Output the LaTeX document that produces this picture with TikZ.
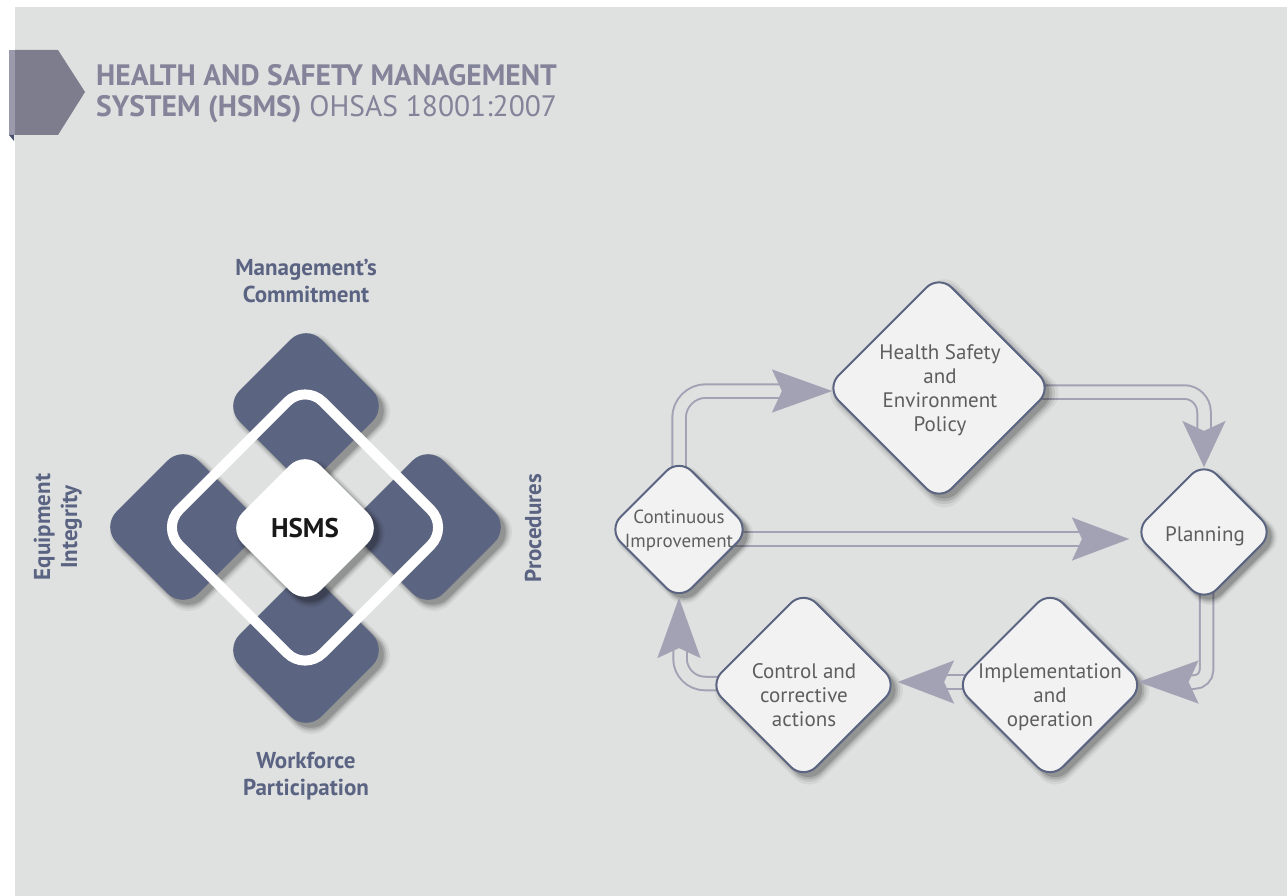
\documentclass[tikz,border=0pt]{standalone}
\usepackage{fontspec}
\setmainfont{PT Sans}
\usetikzlibrary{shapes.geometric,arrows.meta,calc,shadows}
\pgfdeclarelayer{background}
\pgfsetlayers{background,main}
\definecolor{bggrey}{HTML}{DFE1E0}
\definecolor{bannerc}{HTML}{7E7D8E}
\definecolor{bannerlight}{HTML}{9B9AAD}
\definecolor{bannerdark}{HTML}{4A5070}
\definecolor{titlec}{HTML}{83839A}
\definecolor{darkblue}{HTML}{5B6480}
\definecolor{labelc}{HTML}{5A6382}
\definecolor{pipec}{HTML}{A3A2B4}
\definecolor{nodefill}{HTML}{F2F2F2}
\definecolor{flowtext}{HTML}{5E5E5E}
\tikzset{
  shad/.style={
    general shadow={fill=black, opacity=0.05, shadow scale=1.08, shadow xshift=5pt, shadow yshift=-5pt},
    general shadow={fill=black, opacity=0.08, shadow scale=1.05, shadow xshift=5pt, shadow yshift=-5pt},
    general shadow={fill=black, opacity=0.11, shadow scale=1.025, shadow xshift=5pt, shadow yshift=-5pt},
    general shadow={fill=black, opacity=0.15, shadow scale=1.0, shadow xshift=5pt, shadow yshift=-5pt}},
  darkdia/.style={diamond, aspect=1, fill=darkblue, minimum size=164pt, rounded corners=22pt, inner sep=0pt, shad},
  flowdia/.style={diamond, aspect=1, fill=nodefill, draw=darkblue, line width=2pt, rounded corners=18pt, inner sep=0pt, shad},
  flowtxt/.style={font=\fontsize{21pt}{24pt}\selectfont, text=flowtext, align=center, inner sep=0pt},
  lbl/.style={font=\bfseries\fontsize{23pt}{27pt}\selectfont, text=labelc, align=center, inner sep=0pt},
  titletxt/.style={font=\fontsize{29.5pt}{31pt}\selectfont, text=titlec, anchor=base west, inner sep=0pt},
  pipe/.style={draw=pipec, line width=2pt, double=bggrey, double distance=11.5pt, rounded corners=#1},
  pipe/.default=20pt,
  head/.style={draw=bggrey, line width=0.1pt, -{Stealth[length=#1, width=43pt, inset=10pt, color=pipec]}},
  head/.default=60pt
}
\begin{document}
\begin{tikzpicture}[x=1pt,y=-1pt]
\useasboundingbox (0,0) rectangle (1287,896);
\begin{pgfonlayer}{background}
\fill[white] (0,0) rectangle (1287,896);
\fill[bggrey] (15,7) rectangle (1287,896);
\end{pgfonlayer}

% banner
\fill[bannerlight] (9,50) rectangle (15,135);
\fill[bannerc] (15,50) -- (58,50) -- (85,92) -- (58,135) -- (15,135) -- cycle;
\fill[bannerdark] (9,135) -- (14,135) -- (14,141) -- cycle;
\node[titletxt, font=\bfseries\fontsize{29.5pt}{31pt}\selectfont] (t1) at (96,86) {HEALTH AND SAFETY MANAGEMENT};
\node[titletxt] (t2) at (96,117) {\textbf{SYSTEM (HSMS)} OHSAS 18001:2007};

% left diagram
\node[darkdia] (dtop) at (306,406) {};
\node[darkdia] (dleft) at (183,527) {};
\node[darkdia] (dright) at (428,527) {};
\node[darkdia] (dbot) at (306,650) {};
\node[diamond, aspect=1, minimum size=291pt, draw=white, line width=10pt, rounded corners=25pt, inner sep=0pt] (ring) at (305,527.5) {};
\node[diamond, aspect=1, fill=white, minimum size=156pt, rounded corners=22pt, inner sep=0pt, shad] (hsms) at (305,528) {};
\node[font=\bfseries\fontsize{27pt}{30pt}\selectfont, text=black!90, inner sep=0pt] (hsmst) at (hsms.center) {HSMS};

\node[lbl] (mc) at (306,281) {Management’s\\Commitment};
\node[lbl] (wp) at (306,776) {Workforce\\Participation};
\node[lbl, rotate=90] (ei) at (58,527) {Equipment\\Integrity};
\node[lbl, rotate=90] (pr) at (533,528) {Procedures};

% right diagram
\node[flowdia, minimum size=227pt] (policy) at (939,388) {};
\node[flowdia, minimum size=141pt] (plan) at (1204,532) {};
\node[flowdia, minimum size=143pt] (cont) at (679,529.5) {};
\node[flowdia, minimum size=190pt] (control) at (803.5,685) {};
\node[flowdia, minimum size=190pt] (impl) at (1050,685) {};

\node[flowtxt] (policyt) at (940,390) {Health Safety\\and\\Environment\\Policy};
\node[flowtxt] (plant) at (1205,536) {Planning};
\node[flowtxt, font=\fontsize{19pt}{24pt}\selectfont] (contt) at (679,531) {Continuous\\Improvement};
\node[flowtxt] (controlt) at (804,695) {Control and\\corrective\\actions};
\node[flowtxt] (implt) at (1050,697) {Implementation\\and\\operation};

\begin{pgfonlayer}{background}
\draw[pipe=27pt] (cont.center) |- ($(policy.west)+(-38.5,3)$);
\draw[pipe=20pt] ($(policy.center)+(0,4)$) -| ($(plan.north)+(0,-25.5)$);
\draw[pipe=12pt] ($(plan.center)+(2.5,0)$) |- ($(impl.east)+(38,-3)$);
\draw[pipe] ($(impl.center)+(0,-3)$) -- ($(control.east)+(40.5,-3)$);
\draw[pipe=25pt] ($(control.center)+(0,-1.5)$) -| ($(cont.south)+(1,42)$);
\draw[pipe] ($(cont.center)+(0,9.5)$) -- ($(plan.west)+(-46.5,7)$);
\end{pgfonlayer}

\draw[head=60pt] ($(policy.west)+(-52.5,3)$) -- ($(policy.west)+(7.5,3)$);
\draw[head=46pt] ($(plan.north)+(0,-39.5)$) -- ($(plan.north)+(0,6.5)$);
\draw[head=60pt] ($(impl.east)+(52.5,-3)$) -- ($(impl.east)+(-7.5,-3)$);
\draw[head=56pt] ($(control.east)+(54.5,-3)$) -- ($(control.east)+(-1.5,-3)$);
\draw[head=60pt] ($(cont.south)+(0,56)$) -- ($(cont.south)+(0,-4)$);
\draw[head=57pt] ($(plan.west)+(-60.5,7)$) -- ($(plan.west)+(-3.5,7)$);
\end{tikzpicture}
\end{document}
